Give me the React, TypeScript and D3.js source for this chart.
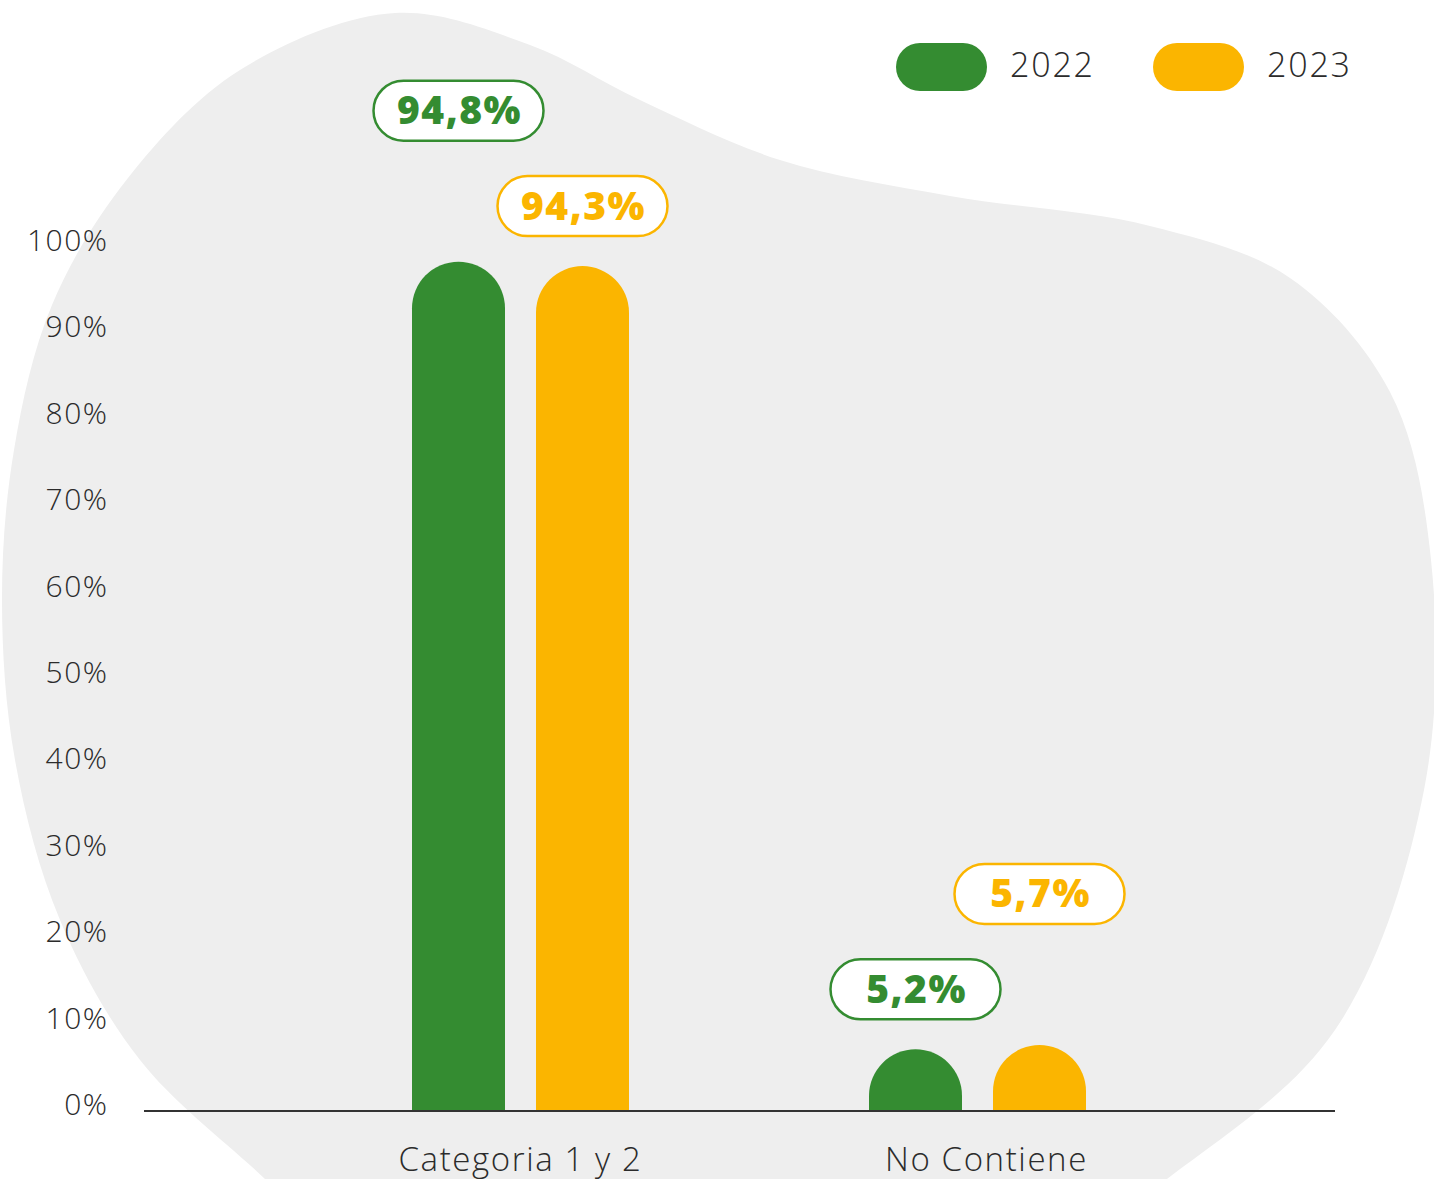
import React from "react";
import * as d3 from "d3";

const categories = ["Categoria 1 y 2", "No Contiene"];
const seriesNames = ["2022", "2023"];
const values2022 = [94.8, 5.2];
const values2023 = [94.3, 5.7];
const valueLabels2022 = ["94,8%", "5,2%"];
const valueLabels2023 = ["94,3%", "5,7%"];
const tickValues = [0, 10, 20, 30, 40, 50, 60, 70, 80, 90, 100];
const colors = ["#348c31", "#fbb500"];

// blob outline (decorative background) points, closed curve extending below the frame
const blobPoints: [number, number][] = [
  [265, 1179], [140, 1060], [60, 920], [15, 760], [2, 600], [14, 450], [52, 305],
  [128, 178], [240, 70], [395, 13], [530, 45], [640, 100], [780, 160], [950, 196],
  [1150, 226], [1290, 278], [1390, 392], [1431, 560], [1424, 790], [1335, 1030],
  [1167, 1179], [950, 1320], [600, 1360], [360, 1270],
];

const W = 1434;
const H = 1179;
const baseY = 1111;

export default function App() {
  const x = d3.scaleBand<string>().domain(categories).range([292, 1206]);
  const xSub = d3.scaleBand<string>().domain(seriesNames).range([0, 217]).paddingInner(0.25);
  const y = d3.scaleLinear().domain([0, 100]).range([1095, 216]);
  const yTick = d3.scaleLinear().domain([0, 100]).range([1104, 240]);

  const blobPath = d3.line().curve(d3.curveCatmullRomClosed.alpha(0.5))(blobPoints) as string;

  const series = [
    { name: seriesNames[0], values: values2022, labels: valueLabels2022, color: colors[0] },
    { name: seriesNames[1], values: values2023, labels: valueLabels2023, color: colors[1] },
  ];

  const barPath = (x0: number, w: number, top: number, base: number) => {
    const r = w / 2;
    return `M${x0},${base}L${x0},${top + r}A${r},${r} 0 0 1 ${x0 + w},${top + r}L${x0 + w},${base}Z`;
  };

  const bw = xSub.bandwidth();
  const groupOffset = (x.bandwidth() - 217) / 2;

  return (
    <div style={{ position: "absolute", left: 0, top: 0 }}>
      <svg width={W} height={H} style={{ display: "block" }}>
        <rect width={W} height={H} fill="#ffffff" />
        <path d={blobPath} fill="#eeeeee" />

        {/* y tick labels */}
        {tickValues.map((t) => (
          <text
            key={t}
            x={108.5}
            y={yTick(t) + 11}
            textAnchor="end"
            fontFamily="'Open Sans', sans-serif"
            fontWeight={300}
            fontSize={30}
            letterSpacing={1.5}
            fill="#2b2b2b"
          >
            {t}%
          </text>
        ))}

        {/* bars */}
        {categories.map((c, ci) => {
          const gx = (x(c) as number) + groupOffset;
          return series.map((s) => {
            const bx = gx + (xSub(s.name) as number);
            return (
              <path key={c + s.name} d={barPath(bx, bw, y(s.values[ci]), baseY - 1)} fill={s.color} />
            );
          });
        })}

        {/* axis line */}
        <line x1={144} x2={1335} y1={baseY} y2={baseY} stroke="#333333" strokeWidth={2} />

        {/* category labels */}
        {categories.map((c, ci) => (
          <text
            key={c}
            x={(x(c) as number) + x.bandwidth() / 2 + (ci === 1 ? 9 : 0)}
            y={1171}
            textAnchor="middle"
            fontFamily="'Open Sans', sans-serif"
            fontWeight={300}
            fontSize={33}
            letterSpacing={1.6}
            fill="#2b2b2b"
          >
            {c}
          </text>
        ))}

        {/* value labels */}
        {categories.map((c, ci) => {
          const gx = (x(c) as number) + groupOffset;
          const maxVal = Math.max(...series.map((s) => s.values[ci]));
          return series.map((s) => {
            const cx = gx + (xSub(s.name) as number) + bw / 2;
            const top = y(s.values[ci]);
            const cy = top - (s.values[ci] === maxVal ? 151 : 60);
            return (
              <g key={"lbl" + c + s.name}>
                <rect
                  x={cx - 85}
                  y={cy - 30}
                  width={170}
                  height={60}
                  rx={30}
                  fill="#ffffff"
                  stroke={s.color}
                  strokeWidth={2.5}
                />
                <text
                  x={cx + 1}
                  y={cy + 13.5}
                  textAnchor="middle"
                  fontFamily="'Open Sans', sans-serif"
                  fontWeight={800}
                  fontSize={39}
                  letterSpacing={1.5}
                  fill={s.color}
                >
                  {s.labels[ci]}
                </text>
              </g>
            );
          });
        })}

        {/* legend */}
        {series.map((s, i) => {
          const lx = 896 + i * 257;
          return (
            <g key={"leg" + s.name}>
              <rect x={lx} y={43} width={91} height={48} rx={24} fill={s.color} />
              <text
                x={lx + 114}
                y={77}
                fontFamily="'Open Sans', sans-serif"
                fontWeight={300}
                fontSize={34}
                letterSpacing={1.8}
                fill="#2b2b2b"
              >
                {s.name}
              </text>
            </g>
          );
        })}
      </svg>
    </div>
  );
}
